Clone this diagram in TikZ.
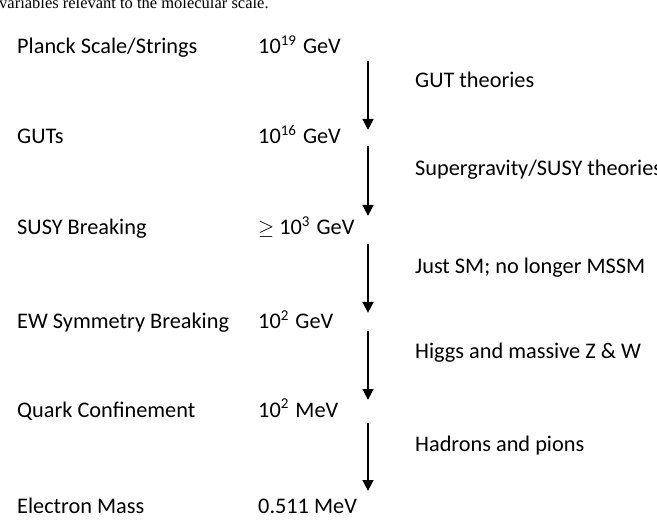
\documentclass[tikz,border=0pt]{standalone}
\usepackage{fontspec}
\setmainfont{Carlito}
\newfontfamily\capfont{Liberation Serif}
\usetikzlibrary{arrows.meta}
\newcommand{\supx}[1]{\raisebox{0.38em}{\fontsize{15}{15}\selectfont #1}\hspace{2pt}}
\begin{document}
\begin{tikzpicture}[x=1pt,y=-1pt,
  lbl/.style={anchor=base west,inner sep=0pt,font=\fontsize{22.3}{26}\selectfont},
  nrg/.style={anchor=base west,inner sep=0pt,font=\fontsize{22.3}{26}\selectfont},
  desc/.style={anchor=base west,inner sep=0pt,font=\fontsize{22.3}{26}\selectfont},
  flow/.style={line width=2.8pt,-{Triangle[width=10.5pt,length=11pt]}}]
\useasboundingbox (0,0) rectangle (657,532);
\fill[white] (0,0) rectangle (657,532);
\node[anchor=base west,inner sep=0pt,font=\capfont\fontsize{16.5}{18}\selectfont] (cap) at (-1,9) {variables relevant to the molecular scale.};
% left labels
\node[lbl] (l1) at (17,54) {Planck Scale/Strings};
\node[lbl] (l2) at (17,144) {GUTs};
\node[lbl] (l3) at (17,235) {SUSY Breaking};
\node[lbl] (l4) at (17,329) {EW Symmetry Breaking};
\node[lbl] (l5) at (17,417) {Quark Confinement};
\node[lbl] (l6) at (17,513) {Electron Mass};
% energies
\node[nrg] (e1) at (258,54) {10\supx{19} GeV};
\node[nrg] (e2) at (258,144) {10\supx{16} GeV};
\node[nrg] (e3) at (258,235) {$\geq$ 10\supx{3} GeV};
\node[nrg] (e4) at (258,329) {10\supx{2} GeV};
\node[nrg] (e5) at (258,417) {10\supx{2} MeV};
\node[nrg] (e6) at (258,513) {0.511 MeV};
% descriptions
\node[desc] (d1) at (415,88) {GUT theories};
\node[desc] (d2) at (415,176) {Supergravity/SUSY theories};
\node[desc] (d3) at (415,273) {Just SM; no longer MSSM};
\node[desc] (d4) at (415,358) {Higgs and massive Z \& W};
\node[desc] (d5) at (415,451) {Hadrons and pions};
% arrow ends
\coordinate (a1s) at (368,61);  \coordinate (a1e) at (368,130);
\coordinate (a2s) at (368,146); \coordinate (a2e) at (368,216);
\coordinate (a3s) at (368,244); \coordinate (a3e) at (368,313);
\coordinate (a4s) at (368,331); \coordinate (a4e) at (368,400);
\coordinate (a5s) at (368,423); \coordinate (a5e) at (368,491);
\draw[flow] (a1s) -- (a1e);
\draw[flow] (a2s) -- (a2e);
\draw[flow] (a3s) -- (a3e);
\draw[flow] (a4s) -- (a4e);
\draw[flow] (a5s) -- (a5e);
\end{tikzpicture}
\end{document}
